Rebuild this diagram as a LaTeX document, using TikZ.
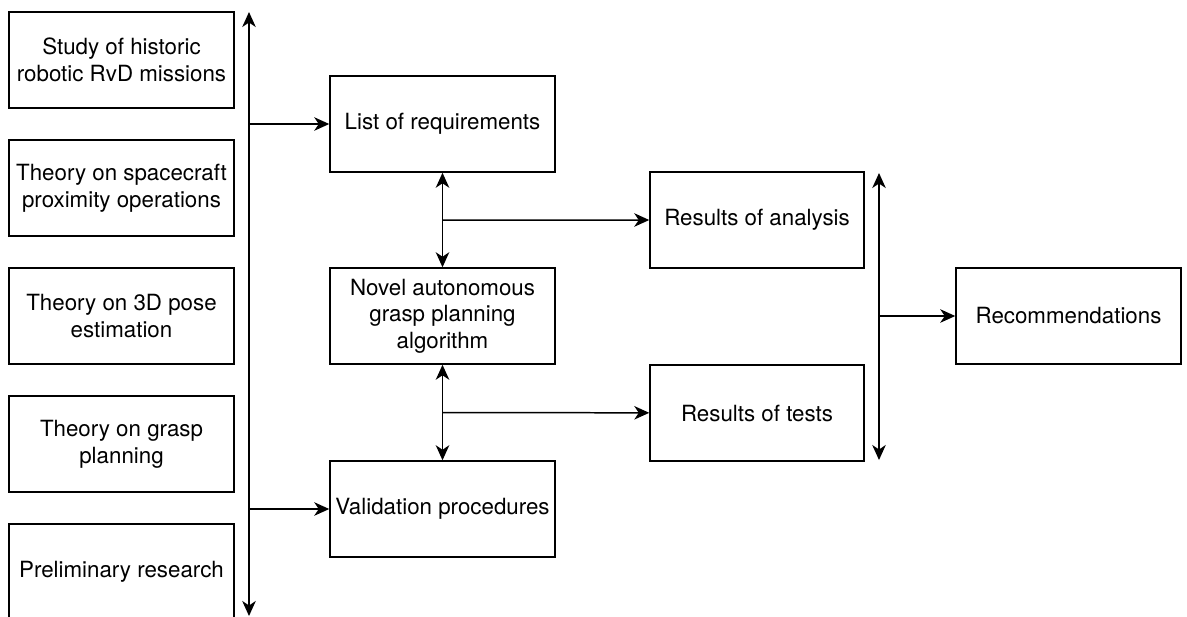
\documentclass[tikz,border=0pt]{standalone}
\usepackage{fontspec}
\setmainfont{TeX Gyre Heros}
\usetikzlibrary{arrows.meta, positioning, calc}

\begin{document}
\begin{tikzpicture}

\tikzset{
  block/.style={rectangle, draw, line width=0.85pt, minimum width=4.5cm, minimum height=1.92cm,
    align=center, inner sep=2pt, font=\fontsize{12.7}{15.2}\selectfont},
  result/.style={block, minimum width=4.28cm},
  link/.style={line width=0.85pt},
  >={Stealth[length=3mm, width=2.7mm, inset=0.9mm]}
}

% --- Rahmen ---
\useasboundingbox (0,0) rectangle (23.74,-12.32);
\clip (0,0) rectangle (23.74,-12.32);

% --- Grundlagen (linke Spalte) ---
\node[block] (hist)   at (2.43,-1.2)   {Study of historic\\robotic RvD missions};
\node[block] (prox)   at (2.43,-3.76)  {Theory on spacecraft\\proximity operations};
\node[block] (pose)   at (2.43,-6.32)  {Theory on 3D pose\\estimation};
\node[block] (grasp)  at (2.43,-8.88)  {Theory on grasp\\planning};
\node[block] (prelim) at (2.43,-11.44) {Preliminary research};

% --- mittlere Spalte ---
\node[block] (req)  at (8.85,-2.48)  {List of requirements};
\node[block] (algo) at (8.85,-6.32)  {Novel autonomous\\grasp planning\\algorithm};
\node[block] (val)  at (8.85,-10.18) {Validation procedures};

% --- Ergebnisse ---
\node[result] (ana)  at (15.14,-4.4)  {Results of analysis};
\node[result] (test) at (15.14,-8.26) {Results of tests};
\node[block]  (rec)  at (21.37,-6.32) {Recommendations};

% --- Sammelschienen ---
\coordinate (busTop) at (4.98,-0.24);
\coordinate (busBot) at (4.98,-12.32);
\coordinate (resTop) at (17.58,-3.46);
\coordinate (resBot) at (17.58,-9.2);

% --- Kanten ---
\draw[<->, link] (busTop) -- (busBot);
\draw[->, link] (busTop |- req) -- (req);
\draw[->, link] (busTop |- val) -- (val);

\draw[<->, link] (req) -- (algo);
\draw[->, link] ($(req.south)!0.5!(algo.north)$) -- (ana);
\draw[<->, link] (algo) -- (val);
\draw[->, link] ($(algo.south)!0.5!(val.north)$) -- (test);

\draw[<->, link] (resTop) -- (resBot);
\draw[->, link] (resTop |- rec) -- (rec);

\end{tikzpicture}
\end{document}
